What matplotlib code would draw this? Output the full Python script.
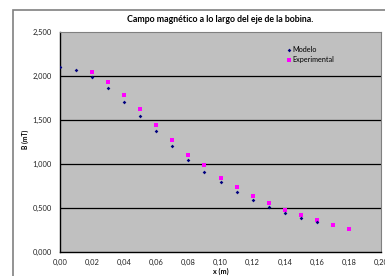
import matplotlib
matplotlib.use("Agg")
import matplotlib.pyplot as plt
from matplotlib.patches import Rectangle

x_model = [0.00, 0.01, 0.02, 0.03, 0.04, 0.05, 0.06, 0.07, 0.08, 0.09, 0.10, 0.11, 0.12, 0.13, 0.14, 0.15, 0.16]
b_model = [2.10, 2.068, 1.99, 1.86, 1.71, 1.54, 1.37, 1.21, 1.05, 0.91, 0.79, 0.685, 0.59, 0.51, 0.447, 0.386, 0.337]
x_exp = [0.02, 0.03, 0.04, 0.05, 0.06, 0.07, 0.08, 0.09, 0.10, 0.11, 0.12, 0.13, 0.14, 0.15, 0.16, 0.17, 0.18]
b_exp = [2.045, 1.935, 1.784, 1.625, 1.443, 1.27, 1.10, 0.985, 0.84, 0.739, 0.64, 0.553, 0.477, 0.417, 0.367, 0.303, 0.265]
x_ticks = [0.00, 0.02, 0.04, 0.06, 0.08, 0.10, 0.12, 0.14, 0.16, 0.18, 0.20]
y_ticks = [0.0, 0.5, 1.0, 1.5, 2.0, 2.5]

plt.rcParams['font.family'] = ['Lato', 'DejaVu Sans']
W, H = 385, 276
fig = plt.figure(figsize=(W/100, H/100), dpi=100)
fig.patch.set_facecolor('white')
# outer chart border
fig.patches.append(Rectangle((13/W, -0.1), 1.2, (H-10)/H + 0.1, transform=fig.transFigure,
                             fill=False, edgecolor='#808080', linewidth=1.2))

ax = fig.add_axes([60/W, (H-252)/H, (381-60)/W, (252-32)/H])
ax.set_facecolor('#C0C0C0')
ax.set_xlim(0, 0.20)
ax.set_ylim(0, 2.5)
ax.set_xticks(x_ticks)
ax.set_xticklabels([f"{v:.2f}".replace('.', ',') for v in x_ticks])
ax.set_yticks(y_ticks)
ax.set_yticklabels([f"{v:.3f}".replace('.', ',') for v in y_ticks])
ax.tick_params(axis='y', length=0, labelsize=5.4, pad=6, colors='#222222')
ax.tick_params(axis='x', length=0, labelsize=5.4, pad=5, colors='#222222')
for yv in y_ticks[1:-1]:
    ax.axhline(yv, color='black', linewidth=0.9, zorder=1)
for s in ['left', 'bottom']:
    ax.spines[s].set_color('black')
    ax.spines[s].set_linewidth(1.0)
for s in ['top', 'right']:
    ax.spines[s].set_color('#808080')
    ax.spines[s].set_linewidth(0.8)

ax.scatter(x_model, b_model, marker='D', s=3.5, color='#000080', zorder=3, label='Modelo', linewidths=0)
ax.scatter(x_exp, b_exp, marker='s', s=9, color='#FF00FF', zorder=2, label='Experimental', linewidths=0)

leg = ax.legend(loc='upper left', bbox_to_anchor=(0.69, 0.96), frameon=False, fontsize=5.2,
                handletextpad=0.0, labelspacing=0.45, borderpad=0.2, handlelength=0.8, markerscale=1.0)

ax.set_title('Campo magnético a lo largo del eje de la bobina.', fontsize=6.3, fontweight='bold', pad=7)
ax.set_xlabel('x (m)', fontsize=5.2, fontweight='bold', labelpad=1)
ax.set_ylabel('B (mT)', fontsize=4.8, fontweight='bold')
ax.yaxis.set_label_coords(-0.097, 0.51)

fig.savefig('out.png', dpi=100, facecolor='white')
